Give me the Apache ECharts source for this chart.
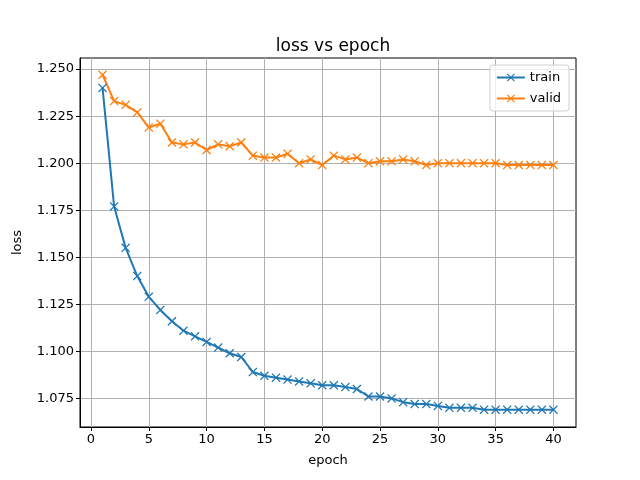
<!DOCTYPE html>
<html>
<head>
<meta charset="utf-8">
<script src="https://cdn.jsdelivr.net/npm/echarts@6/dist/echarts.min.js"></script>
<style>
html, body { margin: 0; padding: 0; background: #fff; }
#chart { width: 640px; height: 480px; }
</style>
</head>
<body>
<div id="chart"></div>
<script>
// epochs 1..40
var epochs = [];
for (var e = 1; e <= 40; e++) epochs.push(e);

var trainLoss = [1.240, 1.177, 1.155, 1.140, 1.129, 1.122, 1.116, 1.111, 1.108, 1.105,
    1.102, 1.099, 1.097, 1.089, 1.087, 1.086, 1.085, 1.084, 1.083, 1.082,
    1.082, 1.081, 1.080, 1.076, 1.076, 1.075, 1.073, 1.072, 1.072, 1.071,
    1.070, 1.070, 1.070, 1.069, 1.069, 1.069, 1.069, 1.069, 1.069, 1.069];
var validLoss = [1.247, 1.233, 1.231, 1.227, 1.219, 1.221, 1.211, 1.210, 1.211, 1.207,
    1.210, 1.209, 1.211, 1.204, 1.203, 1.203, 1.205, 1.200, 1.202, 1.199,
    1.204, 1.202, 1.203, 1.200, 1.201, 1.201, 1.202, 1.201, 1.199, 1.200,
    1.200, 1.200, 1.200, 1.200, 1.200, 1.199, 1.199, 1.199, 1.199, 1.199];

var xTicks = [0, 5, 10, 15, 20, 25, 30, 35, 40];
var yTicks = [1.075, 1.100, 1.125, 1.150, 1.175, 1.200, 1.225, 1.250];

var chart = echarts.init(document.getElementById('chart'));

function pairs(ys) {
    var out = [];
    for (var i = 0; i < ys.length; i++) out.push([epochs[i], ys[i]]);
    return out;
}

var cross = 'path://M0,1L1,0L5,4L9,0L10,1L6,5L10,9L9,10L5,6L1,10L0,9L4,5Z';
var font = 'DejaVu Sans';

var option = {
    animation: false,
    backgroundColor: '#fff',
    title: {
        text: 'loss vs epoch',
        left: 328,
        top: 33,
        textAlign: 'center',
        textStyle: { fontFamily: font, fontSize: 17, fontWeight: 'normal', color: '#000' }
    },
    legend: {
        right: 71,
        top: 65,
        orient: 'vertical',
        itemWidth: 28,
        itemHeight: 10,
        itemGap: 8,
        padding: [6, 8, 6, 6],
        borderColor: '#d0d0d0',
        borderWidth: 1,
        borderRadius: 3,
        backgroundColor: 'rgba(255,255,255,0.8)',
        textStyle: { fontFamily: font, fontSize: 13, color: '#000' },
        data: ['train', 'valid']
    },
    grid: { left: 80, right: 64, top: 58, bottom: 53, show: true, borderColor: '#000', borderWidth: 1 },
    xAxis: {
        type: 'value',
        min: -0.95,
        max: 41.95,
        name: 'epoch',
        nameLocation: 'middle',
        nameGap: 27,
        nameTextStyle: { fontFamily: font, fontSize: 13, color: '#000' },
        axisLine: { show: true, onZero: false, lineStyle: { color: '#000' } },
        axisTick: { show: true, customValues: xTicks, length: 4, lineStyle: { color: '#000' } },
        axisLabel: { customValues: xTicks, fontFamily: font, fontSize: 13, color: '#000', margin: 6 },
        splitLine: { show: true, lineStyle: { color: '#b0b0b0', width: 1 } }
    },
    yAxis: {
        type: 'value',
        min: 1.0598,
        max: 1.2559,
        name: 'loss',
        nameLocation: 'middle',
        nameGap: 56,
        nameTextStyle: { fontFamily: font, fontSize: 13, color: '#000' },
        axisLine: { show: true, onZero: false, lineStyle: { color: '#000' } },
        axisTick: { show: true, customValues: yTicks, length: 4, lineStyle: { color: '#000' } },
        axisLabel: {
            customValues: yTicks, fontFamily: font, fontSize: 13, color: '#000', margin: 6,
            formatter: function (v) { return v.toFixed(3); }
        },
        splitLine: { show: true, lineStyle: { color: '#b0b0b0', width: 1 } }
    },
    series: [
        {
            name: 'train',
            type: 'line',
            data: pairs(trainLoss),
            symbol: cross,
            symbolSize: 9,
            showAllSymbol: true,
            color: '#1f77b4',
            lineStyle: { width: 2 },
            itemStyle: { color: '#1f77b4' }
        },
        {
            name: 'valid',
            type: 'line',
            data: pairs(validLoss),
            symbol: cross,
            symbolSize: 9,
            showAllSymbol: true,
            color: '#ff7f0e',
            lineStyle: { width: 2 },
            itemStyle: { color: '#ff7f0e' }
        }
    ]
};

chart.setOption(option);
</script>
</body>
</html>
